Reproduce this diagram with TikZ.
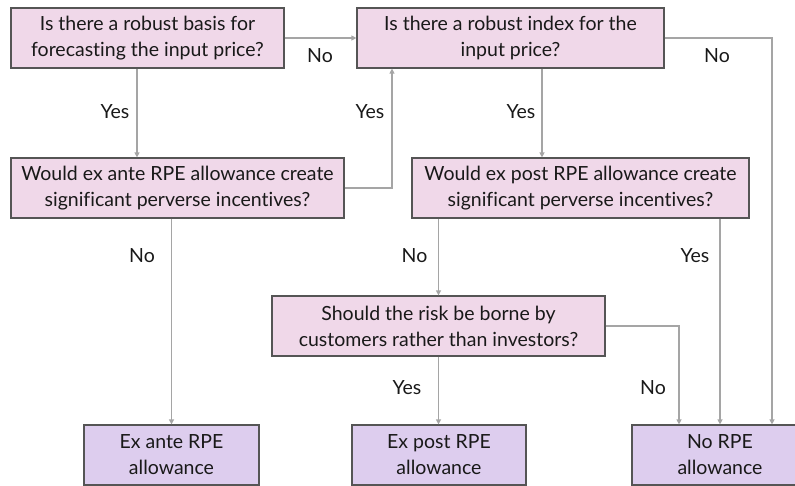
\documentclass[tikz,border=0pt]{standalone}
\usepackage{fontspec}
\setmainfont[Ligatures={NoCommon,NoRare}]{Lato}
\usetikzlibrary{arrows.meta}
\definecolor{qpink}{RGB}{240,216,233}
\definecolor{qlav}{RGB}{221,205,238}
\definecolor{qedge}{RGB}{85,85,85}
\definecolor{qline}{RGB}{165,165,165}
\definecolor{qtext}{RGB}{25,25,25}
\tikzset{
  qbox/.style={draw=qedge, line width=1.2pt, fill=qpink, minimum height=60pt, inner sep=0pt,
     align=center, text=qtext, font=\fontsize{19.5}{26}\selectfont},
  rbox/.style={qbox, fill=qlav},
  lbl/.style={text=qtext, font=\fontsize{19.5}{22}\selectfont, inner sep=0pt},
  conn/.style={draw=qline, line width=1.2pt, -{Triangle[length=5pt,width=5pt]}},
}
\begin{document}
\begin{tikzpicture}[x=1pt,y=-1pt]
\useasboundingbox (0,0) rectangle (795,485);
\node[qbox, minimum width=273pt] (A) at (147.5,38) {Is there a robust basis for\\forecasting the input price?};
\node[qbox, minimum width=307pt] (B) at (510.5,38) {Is there a robust index for the\\input price?};
\node[qbox, minimum width=333pt] (C) at (177.5,188) {Would ex ante RPE allowance create\\significant perverse incentives?};
\node[qbox, minimum width=337pt] (D) at (580.5,188) {Would ex post RPE allowance create\\significant perverse incentives?};
\node[qbox, minimum width=333pt] (E) at (438.5,326) {Should the risk be borne by\\customers rather than investors?};
\node[rbox, minimum width=175pt] (F) at (171.5,455) {Ex ante RPE\\allowance};
\node[rbox, minimum width=174pt] (G) at (439,455) {Ex post RPE\\allowance};
\node[rbox, minimum width=176pt] (H) at (720,455) {No RPE\\allowance};

\draw[conn] ([xshift=-10.5pt]A.south) -- ([xshift=-10.5pt]A.south |- C.north);
\draw[conn] (A.east) -- (B.west);
\draw[conn] (C.east) -| ([xshift=-118.5pt]B.south);
\draw[conn] ([xshift=31.5pt]B.south) -- ([xshift=31.5pt]B.south |- D.north);
\draw[conn] (B.east) -| ([xshift=52pt]H.north);
\draw[conn] (C.south -| F.north) -- (F.north);
\draw[conn] (D.south -| E.north) -- (E.north);
\draw[conn] (D.south -| H.north) -- (H.north);
\draw[conn] (E.south) -- (E.south |- G.north);
\draw[conn] (E.east) -| ([xshift=-41pt]H.north);

\node[lbl] (l1) at (115,112) {Yes};
\node[lbl] (l2) at (320,56) {No};
\node[lbl] (l3) at (370,112) {Yes};
\node[lbl] (l4) at (521,112) {Yes};
\node[lbl] (l5) at (717,56) {No};
\node[lbl] (l6) at (142,256) {No};
\node[lbl] (l7) at (414.5,256) {No};
\node[lbl] (l8) at (695,256) {Yes};
\node[lbl] (l9) at (653,388) {No};
\node[lbl] (l10) at (407,388) {Yes};
\end{tikzpicture}
\end{document}
